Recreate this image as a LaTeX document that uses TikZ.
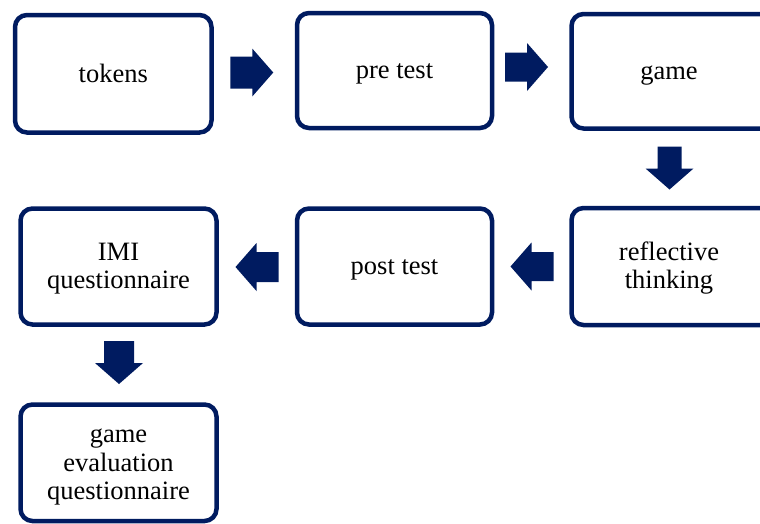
\documentclass[tikz,border=0pt]{standalone}
\usepackage{fontspec}
\setmainfont{Liberation Serif}
\usetikzlibrary{calc}
\definecolor{navy}{HTML}{001B60}
\tikzset{
  frame/.style={draw=navy, line width=4.5pt, rounded corners=12pt},
  stage/.style={frame, fill=white,
    align=center, font=\fontsize{26.5}{27.5}\selectfont, inner sep=0pt},
  openstage/.style={stage, draw=none, fill=none, outer sep=0pt},
  arrowfill/.style={fill=navy}
}
% strut that fixes every text line to the same height and depth
\newcommand{\st}{\rule[-5.5pt]{0pt}{27.5pt}}
% solid block arrow: tail point #2, direction angle #3 (canvas degrees), shaft half-width #1
\newcommand{\blockarrow}[3][14.5]{%
  \fill[arrowfill, shift={#2}, rotate=#3]
    (0,-#1) -- (22,-#1) -- (22,-24) -- (43,0) -- (22,24) -- (22,#1) -- (0,#1) -- cycle;}
\begin{document}
\begin{tikzpicture}[x=1pt, y=-1pt]
  \useasboundingbox (0,0) rectangle (760,523);

  \node[stage, minimum width=196.5pt, minimum height=117.5pt] (tokens) at (113.25,73.75) {\st tokens};
  \node[stage, minimum width=195pt, minimum height=115pt] (pretest) at (394.5,70.5) {\st pre test};
  \node[openstage, minimum width=195pt, minimum height=114.5pt] (game) at (669,71.25) {\st game};
  \node[openstage, minimum width=195pt, minimum height=117pt] (reflect) at (669,266.5) {\st reflective\\\st thinking};
  \node[stage, minimum width=195pt, minimum height=116pt] (posttest) at (394.5,266.5) {\st post test};
  \node[stage, minimum width=196pt, minimum height=116pt] (imi) at (118.5,266.5) {\st IMI\\\st questionnaire};
  \node[stage, minimum width=196pt, minimum height=116.5pt] (evalq) at (118.5,462.75) {\st game\\\st evaluation\\\st questionnaire};

  % the two right-hand boxes run past the right edge of the page
  \draw[frame] (game.north west) rectangle ($(game.south east)+(25,0)$);
  \draw[frame] (reflect.north west) rectangle ($(reflect.south east)+(25,0)$);

  % flow arrows between the stages
  \blockarrow[16]{($(tokens.east)+(16.5,-1.25)$)}{0}
  \blockarrow{($(pretest.east)+(10.75,-3.5)$)}{0}
  \blockarrow[12]{($(game.south)+(0.5,18)$)}{-90}
  \blockarrow{($(reflect.west)+(-18,0)$)}{180}
  \blockarrow[15]{($(posttest.west)+(-16.25,0.5)$)}{180}
  \blockarrow[15]{($(imi.south)+(0.5,14.25)$)}{-90}
\end{tikzpicture}
\end{document}
